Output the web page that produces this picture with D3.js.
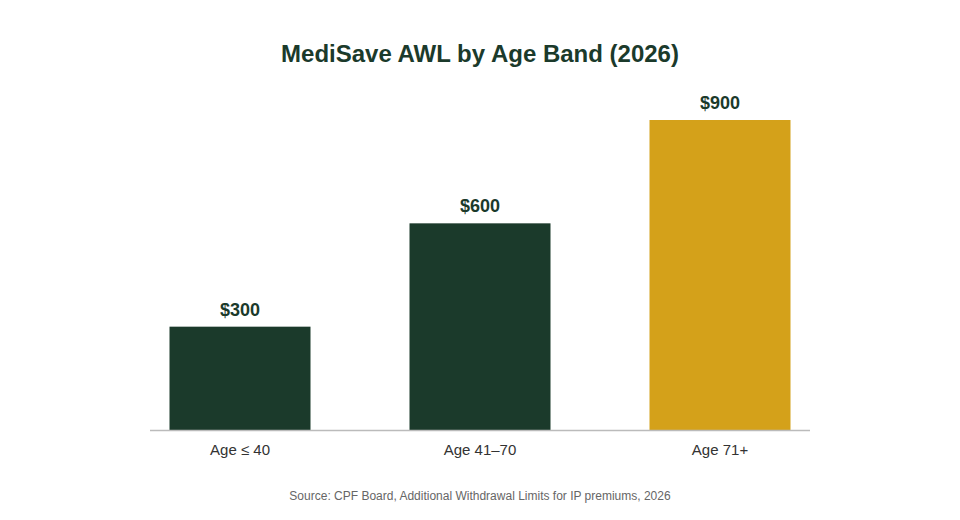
<!DOCTYPE html>
<html>
<head>
<meta charset="utf-8">
<script src="https://cdnjs.cloudflare.com/ajax/libs/d3/7.8.5/d3.min.js"></script>
<style>body{margin:0;background:#fff;font-family:"Liberation Sans",Arial,sans-serif;}</style>
</head>
<body>
<div id="chart"></div>
<script>
var categories = ["Age \u2264 40", "Age 41\u201370", "Age 71+"];
var values = [300, 600, 900];
var labels = ["$300", "$600", "$900"];
var colors = ["#1b3a2b", "#1b3a2b", "#d4a11a"];

var W = 960, H = 520, baseY = 430, topY = 120;
var svg = d3.select("#chart").append("svg").attr("width", W).attr("height", H);

var x = d3.scaleBand().domain(categories).range([120, 840]).paddingInner(0.4125).paddingOuter(0.20625);
var y = d3.scaleLinear().domain([0, 900]).range([baseY, topY]);

svg.append("text").attr("x", 480).attr("y", 62).attr("text-anchor", "middle")
	.attr("font-size", "24px").attr("font-weight", "bold").attr("fill", "#1b3a2b")
	.text("MediSave AWL by Age Band (2026)");

svg.selectAll("rect.bar").data(values).enter().append("rect")
	.attr("class", "bar")
	.attr("x", function(d, i){ return x(categories[i]); })
	.attr("y", function(d){ return y(d); })
	.attr("width", x.bandwidth())
	.attr("height", function(d){ return baseY - y(d); })
	.attr("fill", function(d, i){ return colors[i]; });

svg.selectAll("text.val").data(values).enter().append("text")
	.attr("class", "val")
	.attr("x", function(d, i){ return x(categories[i]) + x.bandwidth()/2; })
	.attr("y", function(d){ return y(d) - 11; })
	.attr("text-anchor", "middle").attr("font-size", "18px").attr("font-weight", "bold")
	.attr("fill", "#1b3a2b")
	.text(function(d, i){ return labels[i]; });

var axis = svg.append("g").attr("transform", "translate(0," + baseY + ")")
	.call(d3.axisBottom(x).tickSize(0).tickPadding(14));
axis.select(".domain").remove();
axis.selectAll("text").attr("font-size", "15px").attr("fill", "#333").attr("font-family", "Liberation Sans, Arial, sans-serif");
svg.append("line").attr("x1", 150).attr("x2", 810).attr("y1", baseY + 0.5).attr("y2", baseY + 0.5)
	.attr("stroke", "#bbb").attr("stroke-width", 1.5);

svg.append("text").attr("x", 480).attr("y", 500).attr("text-anchor", "middle")
	.attr("font-size", "12px").attr("fill", "#666")
	.text("Source: CPF Board, Additional Withdrawal Limits for IP premiums, 2026");
</script>
</body>
</html>
